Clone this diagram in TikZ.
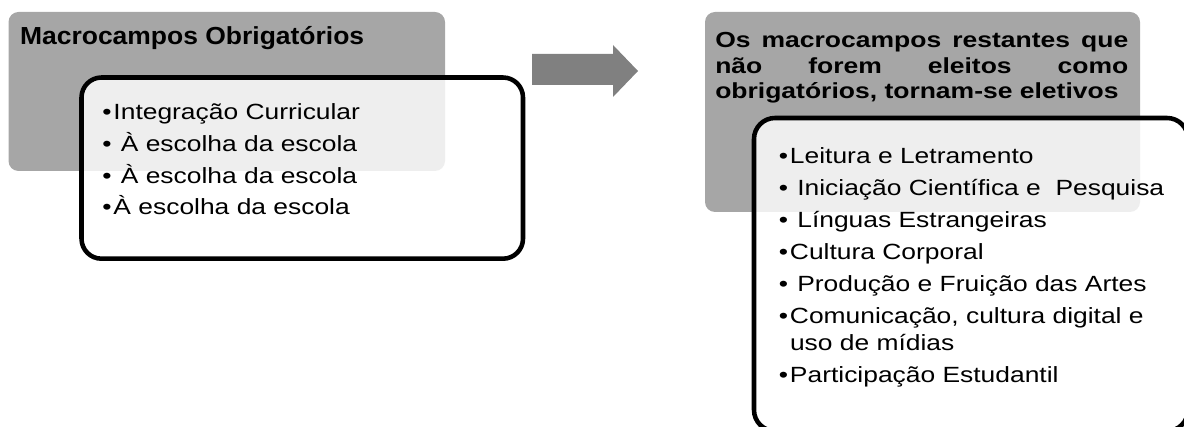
\documentclass[tikz,border=0pt]{standalone}
\usepackage{fontspec}
\setmainfont{Liberation Sans}
\newfontfamily\bodyfont{Liberation Sans}[FakeStretch=1.2]
\newfontfamily\lheadfont{Liberation Sans}[FakeStretch=1.073]
\newfontfamily\rheadfont{Liberation Sans}[FakeStretch=1.215]
\definecolor{boxgray}{HTML}{A6A6A6}
\definecolor{arrowgray}{HTML}{808080}
\newcommand{\bul}{•\kern1.5pt}

\begin{document}
\begin{tikzpicture}[x=0.75pt, y=-0.75pt,
  graybox/.style={fill=boxgray, rounded corners=7.5pt},
  listbox/.style={draw=black, line width=3.4pt, fill=white, fill opacity=0.82, rounded corners=15pt},
  listtext/.style={inner sep=0pt, align=left, anchor=north west}]
  \useasboundingbox (0,0) rectangle (1184,427);
  \clip (0,0) rectangle (1184,427);
  % obligatory fields
  \fill[graybox] (8.5,12) rectangle (445,171);
  \node[inner sep=0pt, anchor=base west, font=\lheadfont\bfseries\fontsize{18.5}{20}\selectfont]
    (head1) at (19.8,44.3) {Macrocampos Obrigatórios};
  \draw[listbox] (81.5,77.5) rectangle (523,258.7);
  \node[listtext, font=\bodyfont\fontsize{16.5}{23.8}\selectfont] (list1) at (102,99.5)
    {\rule{0pt}{15pt}\bul Integração Curricular\\\bul\ À escolha da escola\\\bul\ À escolha da escola\\\bul À escolha da escola};
  % block arrow
  \fill[arrowgray] (532,54) -- (613,54) -- (613,45) -- (638,71) -- (613,97) -- (613,85) -- (532,85) -- cycle;
  % elective fields
  \fill[graybox] (705,12) rectangle (1140,212);
  \node[listtext, font=\rheadfont\bfseries\fontsize{16.35}{18.9}\selectfont]
    (head2) at (715,27.7)
    {\makebox[309.75pt]{\rule{0pt}{15pt}Os\hfill macrocampos\hfill restantes\hfill que}\\
     \makebox[309.75pt]{não\hfill forem\hfill eleitos\hfill como}\\
     obrigatórios, tornam-se eletivos};
  \draw[listbox, rounded corners=15.75pt] (754,118) rectangle (1188,431);
  \node[listtext, font=\bodyfont\fontsize{16.5}{20}\selectfont] (list2) at (778.5,143)
    {\rule{0pt}{15pt}\bul Leitura e Letramento\\[4.1pt]
     \bul\ Iniciação Científica e\ \ Pesquisa\\[4.1pt]
     \bul\ Línguas Estrangeiras\\[4.1pt]
     \bul Cultura Corporal\\[4.1pt]
     \bul\ Produção e Fruição das Artes\\[4.1pt]
     \bul Comunicação, cultura digital e\\
     \phantom{\bul}uso de mídias\\[4.1pt]
     \bul Participação Estudantil};
\end{tikzpicture}
\end{document}
